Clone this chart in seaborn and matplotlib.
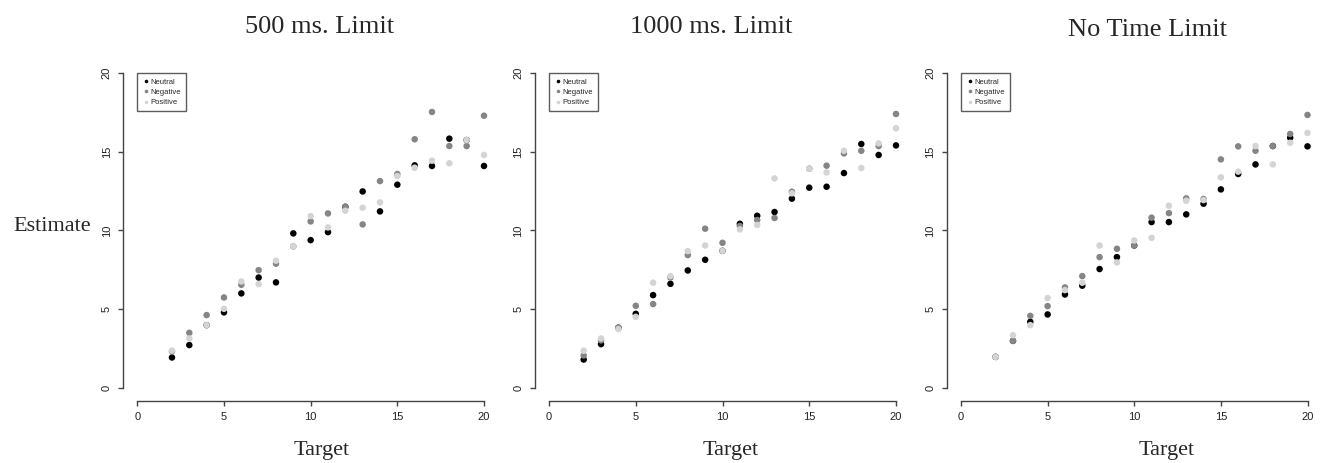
import numpy as np
import pandas as pd
import matplotlib
matplotlib.use("Agg")
import matplotlib.pyplot as plt
import seaborn as sns

# ---------------- data ----------------
targets = list(range(2, 21))
conditions = ["Neutral", "Negative", "Positive"]
panel_titles = ["500 ms. Limit", "1000 ms. Limit", "No Time Limit"]
x_ticks = [0, 5, 10, 15, 20]
y_ticks = [0, 5, 10, 15, 20]

neutral_500 = [1.91, 2.70, 3.97, 4.78, 5.99, 7.00, 6.69, 9.81, 9.38, 9.89, 11.50,
               12.48, 11.21, 12.91, 14.14, 14.10, 15.84, 15.75, 14.10]
negative_500 = [2.30, 3.48, 4.61, 5.73, 6.54, 7.47, 7.88, 8.98, 10.57, 11.08, 11.51,
                10.38, 13.14, 13.59, 15.80, 17.54, 15.37, 15.37, 17.30]
positive_500 = [2.35, 3.12, 3.97, 5.01, 6.75, 6.58, 8.07, 8.98, 10.91, 10.19, 11.25,
                11.44, 11.78, 13.46, 13.99, 14.44, 14.27, 15.75, 14.80]

neutral_1000 = [1.78, 2.76, 3.80, 4.69, 5.88, 6.60, 7.45, 8.13, 8.70, 10.42, 10.93,
                11.17, 12.02, 12.72, 12.78, 13.65, 15.50, 14.80, 15.41]
negative_1000 = [2.04, 3.00, 3.82, 5.20, 5.31, 7.00, 8.43, 10.11, 9.21, 10.28, 10.66,
                 10.79, 12.46, 13.93, 14.12, 14.90, 15.07, 15.37, 17.41]
positive_1000 = [2.34, 3.12, 3.72, 4.50, 6.67, 7.09, 8.68, 9.04, 8.70, 10.06, 10.34,
                 13.31, 12.36, 13.93, 13.69, 15.07, 13.97, 15.54, 16.50]

neutral_nolimit = [1.95, 2.97, 4.18, 4.65, 5.92, 6.48, 7.54, 8.30, 9.04, 10.53, 10.53,
                   11.02, 11.70, 12.61, 13.59, 14.20, 15.37, 15.90, 15.35]
negative_nolimit = [1.95, 2.97, 4.56, 5.18, 6.37, 7.09, 8.30, 8.83, 9.04, 10.81, 11.10,
                    12.04, 12.00, 14.52, 15.35, 15.07, 15.37, 16.14, 17.35]
positive_nolimit = [1.95, 3.33, 3.97, 5.69, 6.20, 6.67, 9.04, 7.96, 9.36, 9.53, 11.57,
                    11.89, 11.93, 13.38, 13.74, 15.37, 14.20, 15.58, 16.20]

panels = [
    (neutral_500, negative_500, positive_500),
    (neutral_1000, negative_1000, positive_1000),
    (neutral_nolimit, negative_nolimit, positive_nolimit),
]

palette = {"Neutral": "#000000", "Negative": "#858585", "Positive": "#d4d4d4"}

# ---------------- figure ----------------
sns.set_theme(style="white")
plt.rcParams["font.family"] = ["Liberation Sans", "DejaVu Sans"]

W, H = 1320, 463
fig = plt.figure(figsize=(W / 100, H / 100), dpi=100)

# data-area pixel extents (x=0..20, y=0..20)
x0_px = [137.3, 549.0, 961.0]
x1_px = [484.0, 896.0, 1307.5]
ytop_px, ybot_px = 73.3, 387.5

title_pos = [(320, 27), (711, 27), (1147, 29.5)]
target_pos = [(321.5, 451), (730.8, 451), (1166.8, 451)]

serif = ["Liberation Serif", "DejaVu Serif"]

for i, (neu, neg, pos) in enumerate(panels):
    left = x0_px[i] / W
    width = (x1_px[i] - x0_px[i]) / W
    bottom = (H - ybot_px) / H
    height = (ybot_px - ytop_px) / H
    ax = fig.add_axes([left, bottom, width, height])

    df = pd.DataFrame({
        "Target": targets * 3,
        "Estimate": neu + neg + pos,
        "Condition": [c for c in conditions for _ in targets],
    })
    sns.scatterplot(data=df, x="Target", y="Estimate", hue="Condition",
                    hue_order=conditions, palette=palette, s=22,
                    linewidth=0, ax=ax, legend=True, clip_on=False)

    ax.set_xlim(0, 20)
    ax.set_ylim(0, 20)
    ax.set_xticks(x_ticks)
    ax.set_yticks(y_ticks)
    ax.set_xlabel("")
    ax.set_ylabel("")
    ax.set_facecolor("none")
    for s in ["top", "right"]:
        ax.spines[s].set_visible(False)
    ax.spines["left"].set_position(("outward", 10))
    ax.spines["bottom"].set_position(("outward", 9.5))
    ax.spines["left"].set_bounds(0, 20)
    ax.spines["bottom"].set_bounds(0, 20)
    for s in ["left", "bottom"]:
        ax.spines[s].set_color("#444444")
        ax.spines[s].set_linewidth(1.0)
    ax.tick_params(axis="both", direction="out", length=3.5, width=1.0,
                   color="#444444", labelsize=8, labelcolor="#222222", pad=5,
                   left=True, bottom=True)
    for lab in ax.get_yticklabels():
        lab.set_rotation(90)
        lab.set_va("center")

    leg = ax.legend(loc="upper left", bbox_to_anchor=(0, 1), borderaxespad=0,
                    fontsize=5.5, frameon=True, fancybox=False,
                    handletextpad=0.1, labelspacing=0.4, borderpad=0.65,
                    handlelength=1.0, markerscale=0.55)
    leg.get_frame().set_edgecolor("#333333")
    leg.get_frame().set_linewidth(1.0)

    fig.text(title_pos[i][0] / W, 1 - title_pos[i][1] / H, panel_titles[i],
             ha="center", va="center", fontsize=19, family=serif)
    fig.text(target_pos[i][0] / W, 1 - target_pos[i][1] / H, "Target",
             ha="center", va="center", fontsize=16, family=serif)

fig.text(52.5 / W, 1 - 226.7 / H, "Estimate", ha="center", va="center",
         fontsize=16, family=serif)

fig.savefig("out.png", dpi=100)
